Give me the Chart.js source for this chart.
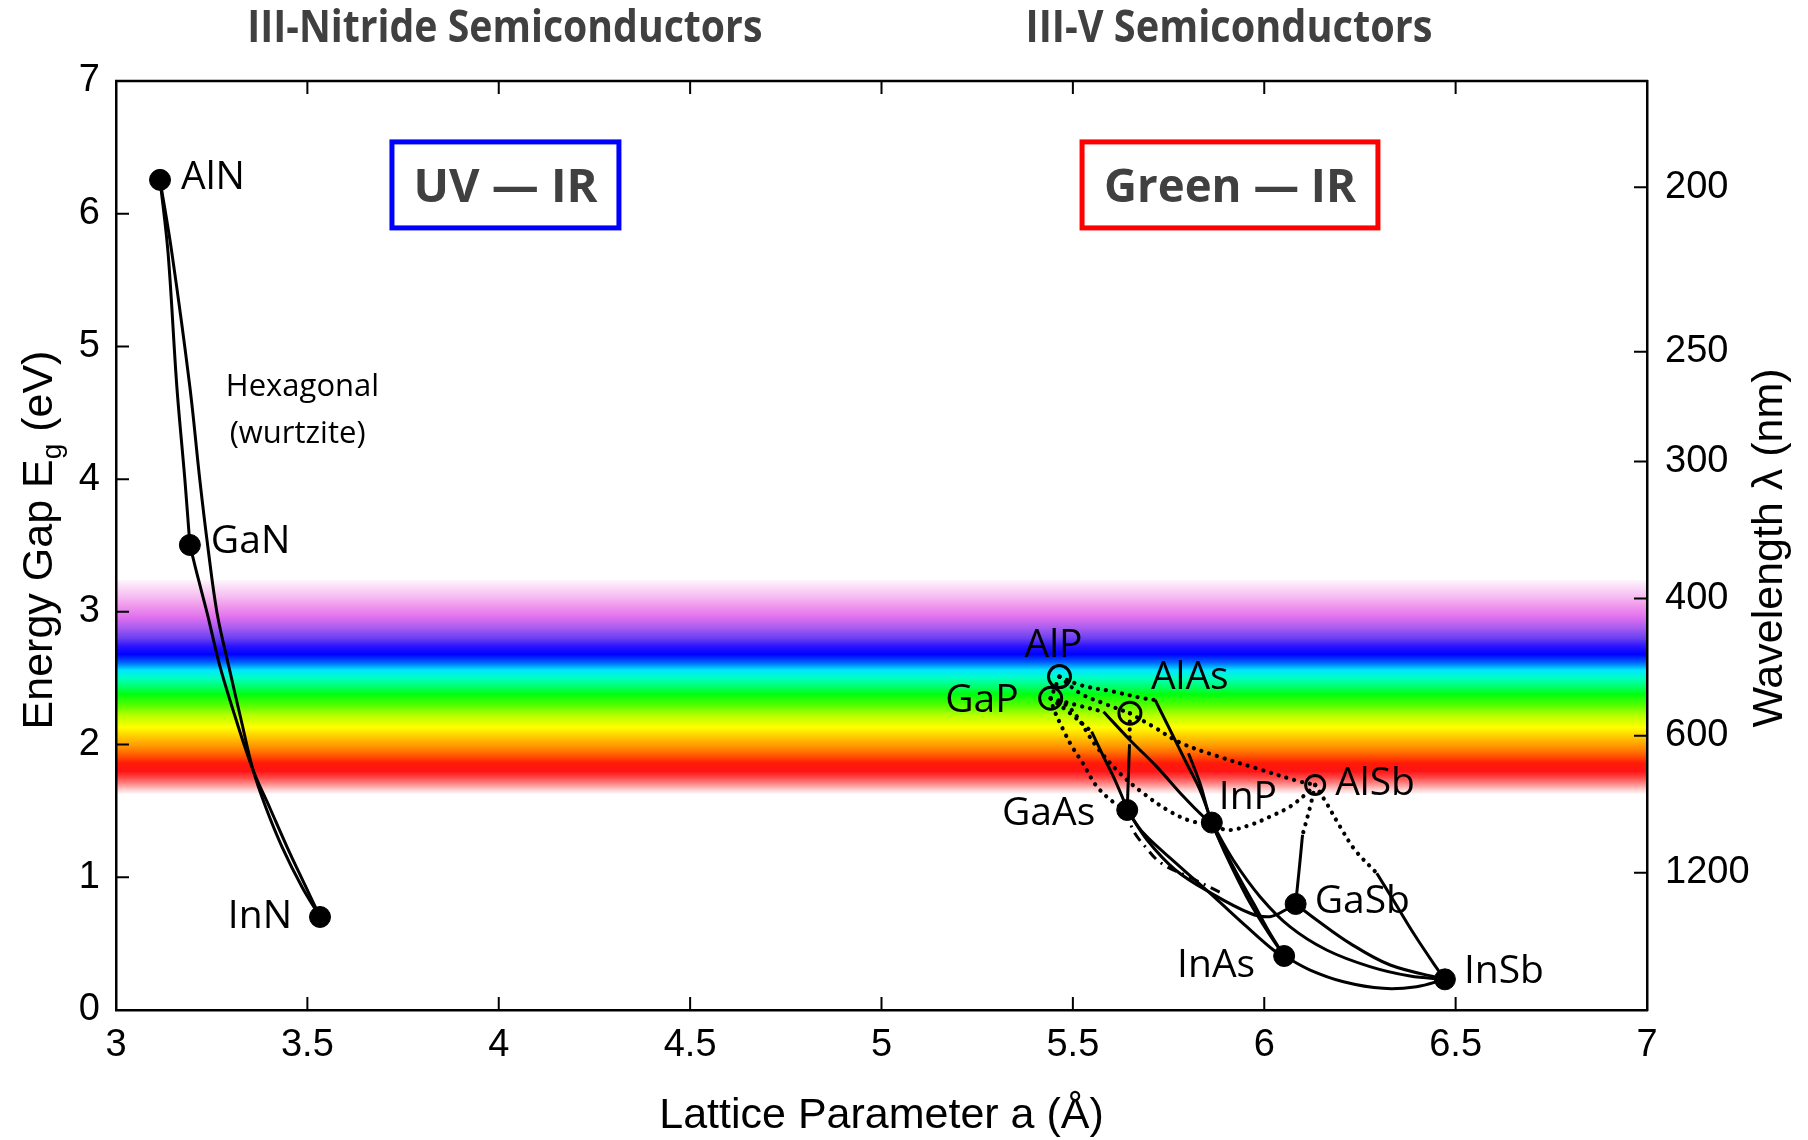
<!DOCTYPE html>
<html>
<head>
<meta charset="utf-8">
<title>Energy gap vs lattice parameter</title>
<script src="https://cdn.jsdelivr.net/npm/chart.js@4.4.1/dist/chart.umd.min.js"></script>
<style>
  html, body { margin: 0; padding: 0; background: #fff; }
  #wrap { width: 1808px; height: 1140px; }
</style>
</head>
<body>
<div id="wrap"><canvas id="chart" width="1808" height="1140"></canvas></div>
<script>
// ---- values ----
// binaries: lattice parameter a (Å) and gap Eg (eV)
const DIRECT_NAMES = ["AlN", "GaN", "InN", "GaAs", "InP", "GaSb", "InAs", "InSb"];
const DIRECT_A = [3.115, 3.193, 3.533, 5.642, 5.863, 6.082, 6.052, 6.472];
const DIRECT_EG = [6.255, 3.504, 0.701, 1.507, 1.412, 0.799, 0.407, 0.231];

const INDIRECT_NAMES = ["AlP", "GaP", "AlAs", "AlSb"];
const INDIRECT_A = [5.465, 5.442, 5.649, 6.133];
const INDIRECT_EG = [2.512, 2.349, 2.236, 1.696];

// right axis: wavelength ticks (nm), placed at E = 1240 / λ
const WAVELENGTH_NM = [200, 250, 300, 400, 600, 1200];
const HC = 1240;

// visible band, top (violet) to bottom (red)
const SPECTRUM_EV = [3.24, 3.20, 3.12, 3.04, 2.96, 2.88, 2.80, 2.74, 2.68, 2.62, 2.56, 2.50, 2.44,
  2.38, 2.30, 2.22, 2.13, 2.05, 1.98, 1.92, 1.86, 1.80, 1.75, 1.70, 1.66, 1.63];
const SPECTRUM_RGB = ["#fff6fd", "#fbe2f8", "#f6c0f1", "#ef95eb", "#e070ee", "#a85cf0", "#6a3ff2",
  "#2a14ff", "#0000ff", "#0060ff", "#00e8ff", "#00ffc0", "#00ff70", "#00ff10", "#50ff00", "#b8ff00",
  "#ffff00", "#ffc400", "#ff9000", "#ff5a00", "#ff1a0a", "#ff1414", "#ff4848", "#ff9090", "#ffd0d0", "#fff4f4"];

// alloy curves as [a, Eg] pairs
const ALGAN = [[3.115, 6.255], [3.136, 5.705], [3.159, 4.695], [3.180, 3.994], [3.193, 3.504]];
const ALINN = [[3.115, 6.255], [3.146, 5.705], [3.193, 4.695], [3.219, 3.994], [3.240, 3.489], [3.264, 2.992],
  [3.295, 2.585], [3.327, 2.185], [3.358, 1.809], [3.392, 1.522], [3.434, 1.228], [3.486, 0.927], [3.533, 0.701]];
const INGAN = [[3.193, 3.504], [3.209, 3.316], [3.238, 2.992], [3.272, 2.585], [3.314, 2.185], [3.358, 1.809],
  [3.402, 1.522], [3.447, 1.228], [3.496, 0.927], [3.533, 0.701]];

const ALGAP = [[5.465, 2.512], [5.442, 2.349]];
const ALASP = [[5.465, 2.512], [5.519, 2.386], [5.580, 2.311], [5.649, 2.236]];
const ALINP_X = [[5.465, 2.512], [5.519, 2.449], [5.606, 2.399], [5.684, 2.349], [5.715, 2.336]];
const ALINP_G = [[5.715, 2.336], [5.754, 2.110], [5.797, 1.859], [5.832, 1.658], [5.863, 1.412]];
const ALASSB = [[5.649, 2.236], [5.710, 2.135], [5.780, 2.015], [5.876, 1.914], [5.980, 1.821], [6.085, 1.728], [6.133, 1.696]];
const ALINAS = [[5.802, 1.934], [5.832, 1.708], [5.863, 1.412], [5.919, 1.080], [5.972, 0.804], [6.015, 0.578], [6.052, 0.407]];
const INASP = [[5.863, 1.412], [5.902, 1.155], [5.954, 0.854], [6.006, 0.603], [6.052, 0.407]];
const ALGAAS_X = [[5.649, 2.236], [5.648, 2.002]];
const ALGAAS_G = [[5.648, 2.002], [5.645, 1.758], [5.642, 1.507]];
const GAINP_X = [[5.442, 2.349], [5.510, 2.298], [5.580, 2.248]];
const GAINP_G = [[5.580, 2.248], [5.649, 2.035], [5.719, 1.834], [5.789, 1.608], [5.841, 1.457], [5.863, 1.412]];
const GAASP_X = [[5.442, 2.349], [5.493, 2.236], [5.549, 2.098]];
const GAASP_G = [[5.549, 2.098], [5.580, 1.909], [5.610, 1.733], [5.636, 1.557], [5.642, 1.507]];
const GAP_GAAS = [[5.442, 2.349], [5.451, 2.261], [5.475, 2.110], [5.498, 1.984], [5.526, 1.859], [5.563, 1.683], [5.610, 1.557], [5.642, 1.507]];
const GAP_INP = [[5.442, 2.349], [5.493, 2.273], [5.562, 1.984], [5.623, 1.783], [5.684, 1.633], [5.754, 1.495], [5.815, 1.419], [5.863, 1.412]];
const ALSB_INP = [[6.133, 1.696], [6.111, 1.633], [6.067, 1.532], [6.015, 1.457], [5.963, 1.394], [5.902, 1.356], [5.863, 1.412]];
const GAAS_TAIL = [[5.642, 1.507], [5.657, 1.356], [5.689, 1.231], [5.731, 1.105], [5.806, 1.000], [5.890, 0.879]];
const ALGASB_X = [[6.133, 1.696], [6.120, 1.532], [6.106, 1.382], [6.100, 1.319]];
const ALGASB_G = [[6.100, 1.319], [6.092, 1.080], [6.082, 0.799]];
const ALINSB_X = [[6.133, 1.696], [6.163, 1.557], [6.198, 1.382], [6.237, 1.206], [6.294, 1.030]];
const ALINSB_G = [[6.294, 1.030], [6.337, 0.829], [6.390, 0.578], [6.442, 0.352], [6.472, 0.231]];
const GAINSB = [[6.082, 0.799], [6.137, 0.678], [6.224, 0.502], [6.329, 0.339], [6.472, 0.231]];
const INASSB = [[6.052, 0.407], [6.120, 0.301], [6.207, 0.213], [6.311, 0.163], [6.398, 0.176], [6.472, 0.231]];
const INPSB = [[5.863, 1.412], [5.919, 1.130], [5.989, 0.854], [6.067, 0.628], [6.163, 0.452], [6.276, 0.327], [6.381, 0.256], [6.472, 0.231]];
const GAINAS = [[5.642, 1.507], [5.685, 1.331], [5.770, 1.105], [5.868, 0.854], [5.954, 0.628], [6.024, 0.452], [6.052, 0.407]];
const GAASSB = [[5.642, 1.507], [5.694, 1.281], [5.768, 1.055], [5.862, 0.879], [5.963, 0.729], [6.015, 0.703], [6.059, 0.759], [6.082, 0.799]];

// which curves and how they are stroked
const CURVES = [
  [ALGAN, "solid"], [ALINN, "solid"], [INGAN, "solid"],
  [ALGAP, "dot"], [ALASP, "dot"], [ALINP_X, "dot"], [ALINP_G, "solid"],
  [ALASSB, "dot"], [ALINAS, "solid"], [INASP, "solid"],
  [ALGAAS_X, "dot"], [ALGAAS_G, "solid"], [GAINP_X, "dot"], [GAINP_G, "solid"],
  [GAASP_X, "dot"], [GAASP_G, "solid"], [GAP_GAAS, "dot"], [GAP_INP, "dot"],
  [ALSB_INP, "dot"], [GAAS_TAIL, "dashdot"],
  [ALGASB_X, "dot"], [ALGASB_G, "solid"], [ALINSB_X, "dot"], [ALINSB_G, "solid"],
  [GAINSB, "solid"], [INASSB, "solid"], [INPSB, "solid"], [GAINAS, "solid"], [GAASSB, "solid"],
];

// ---- styles ----
const STROKE = {
  solid: { width: 3, dash: [], cap: "butt" },
  dot: { width: 4.2, dash: [0.1, 8], cap: "round" },
  dashdot: { width: 3, dash: [10, 6, 2, 6], cap: "butt" },
};
// label offsets from the point in px: [dx, dy, align]
const LABEL_OFFSET = {
  AlN: [21, -2, "left"], GaN: [21, -3, "left"], InN: [-28, 0, "right"],
  AlP: [-6, -31, "center"], GaP: [-32, 3, "right"], AlAs: [21, -35, "left"], AlSb: [20, -1, "left"],
  GaAs: [-32, 4, "right"], InP: [7, -25, "left"], GaSb: [19, -2, "left"], InAs: [-29, 10, "right"],
  InSb: [19, -7, "left"],
};
const TICK_FONT = { family: "'Liberation Sans', Arial, sans-serif", size: 38 };
const LABEL_FONT = "39px 'Open Sans', sans-serif";
const AXIS_FONT = "43px 'Liberation Sans', Arial, sans-serif";
const TICK_LEN = 13;

function pts(list) {
  return list.map(([x, y]) => ({ x, y }));
}

const plotDecor = {
  id: "plotDecor",
  beforeDraw(chart) {
    // visible spectrum band
    const { ctx, chartArea: ca, scales: { y } } = chart;
    const top = y.getPixelForValue(SPECTRUM_EV[0]);
    const bot = y.getPixelForValue(SPECTRUM_EV[SPECTRUM_EV.length - 1]);
    const g = ctx.createLinearGradient(0, top, 0, bot);
    SPECTRUM_EV.forEach((ev, i) => {
      g.addColorStop((y.getPixelForValue(ev) - top) / (bot - top), SPECTRUM_RGB[i]);
    });
    ctx.save();
    ctx.fillStyle = g;
    ctx.fillRect(ca.left, top, ca.right - ca.left, bot - top);
    ctx.restore();
  },
  afterDraw(chart) {
    const { ctx, chartArea: ca, scales: { x, y, y2 } } = chart;
    ctx.save();
    // frame top + inward ticks
    ctx.strokeStyle = "#000";
    ctx.lineWidth = 2.5;
    ctx.beginPath();
    ctx.moveTo(ca.left - 1, ca.top);
    ctx.lineTo(ca.right + 1, ca.top);
    ctx.stroke();
    ctx.lineWidth = 2;
    ctx.beginPath();
    x.ticks.forEach((t) => {
      const px = x.getPixelForValue(t.value);
      ctx.moveTo(px, ca.bottom);
      ctx.lineTo(px, ca.bottom - TICK_LEN);
      ctx.moveTo(px, ca.top);
      ctx.lineTo(px, ca.top + TICK_LEN);
    });
    y.ticks.forEach((t) => {
      const py = y.getPixelForValue(t.value);
      ctx.moveTo(ca.left, py);
      ctx.lineTo(ca.left + TICK_LEN, py);
    });
    y2.ticks.forEach((t) => {
      const py = y2.getPixelForValue(t.value);
      ctx.moveTo(ca.right, py);
      ctx.lineTo(ca.right - TICK_LEN, py);
    });
    ctx.stroke();

    // compound labels
    ctx.fillStyle = "#000";
    ctx.font = LABEL_FONT;
    ctx.textBaseline = "middle";
    const putLabel = (name, a, eg) => {
      const [dx, dy, align] = LABEL_OFFSET[name];
      ctx.textAlign = align;
      ctx.fillText(name, x.getPixelForValue(a) + dx, y.getPixelForValue(eg) + dy);
    };
    DIRECT_NAMES.forEach((n, i) => putLabel(n, DIRECT_A[i], DIRECT_EG[i]));
    INDIRECT_NAMES.forEach((n, i) => putLabel(n, INDIRECT_A[i], INDIRECT_EG[i]));

    ctx.font = "31px 'Open Sans', sans-serif";
    ctx.textAlign = "left";
    ctx.fillText("Hexagonal", x.getPixelForValue(3.287), y.getPixelForValue(4.69));
    ctx.fillText("(wurtzite)", x.getPixelForValue(3.297), y.getPixelForValue(4.34));

    // range boxes
    const box = (x0, x1, y0, y1, color, text, maxW) => {
      const l = x.getPixelForValue(x0), r = x.getPixelForValue(x1);
      const t = y.getPixelForValue(y0), b = y.getPixelForValue(y1);
      ctx.strokeStyle = color;
      ctx.lineWidth = 5;
      ctx.strokeRect(l, t, r - l, b - t);
      ctx.fillStyle = "#404040";
      ctx.font = "bold 47px 'Open Sans', sans-serif";
      ctx.textAlign = "center";
      ctx.fillText(text, (l + r) / 2, (t + b) / 2 + 4, maxW);
    };
    box(3.721, 4.314, 6.541, 5.893, "#0000ff", "UV — IR", 185);
    box(5.524, 6.297, 6.541, 5.893, "#ff0000", "Green — IR", 252);

    // group titles
    ctx.fillStyle = "#404040";
    ctx.font = "bold 45px 'Open Sans', sans-serif";
    ctx.fillText("III-Nitride Semiconductors", x.getPixelForValue(4.016), 29, 515);
    ctx.fillText("III-V Semiconductors", x.getPixelForValue(5.908), 29, 407);

    // axis titles
    ctx.fillStyle = "#000";
    ctx.font = AXIS_FONT;
    ctx.textAlign = "center";
    ctx.fillText("Lattice Parameter a (Å)", (ca.left + ca.right) / 2, 1116);

    const subFont = "28px 'Liberation Sans', Arial, sans-serif";
    const p1 = "Energy Gap E", p2 = "g", p3 = " (eV)";
    ctx.font = AXIS_FONT;
    const w1 = ctx.measureText(p1).width, w3 = ctx.measureText(p3).width;
    ctx.font = subFont;
    const w2 = ctx.measureText(p2).width;
    const total = w1 + w2 + w3;
    ctx.save();
    ctx.translate(37, 540);
    ctx.rotate(-Math.PI / 2);
    ctx.textAlign = "left";
    ctx.textBaseline = "alphabetic";
    ctx.font = AXIS_FONT;
    ctx.fillText(p1, -total / 2, 15);
    ctx.font = subFont;
    ctx.fillText(p2, -total / 2 + w1, 24);
    ctx.font = AXIS_FONT;
    ctx.fillText(p3, -total / 2 + w1 + w2, 15);
    ctx.restore();

    ctx.save();
    ctx.translate(1770, 548);
    ctx.rotate(-Math.PI / 2);
    ctx.textAlign = "center";
    ctx.textBaseline = "middle";
    ctx.font = AXIS_FONT;
    ctx.fillText("Wavelength λ (nm)", 0, 0);
    ctx.restore();

    ctx.restore();
  },
};

const datasets = [
  {
    label: "direct",
    data: DIRECT_A.map((a, i) => ({ x: a, y: DIRECT_EG[i] })),
    pointRadius: 10.5,
    backgroundColor: "#000",
    borderColor: "#000",
    borderWidth: 1,
  },
  {
    label: "indirect",
    data: INDIRECT_A.map((a, i) => ({ x: a, y: INDIRECT_EG[i] })),
    pointRadius: [11, 11, 11, 9.5],
    backgroundColor: "rgba(0,0,0,0)",
    borderColor: "#000",
    borderWidth: 3,
  },
  ...CURVES.map(([list, kind]) => ({
    data: pts(list),
    showLine: true,
    pointRadius: 0,
    borderColor: "#000",
    borderWidth: STROKE[kind].width,
    borderDash: STROKE[kind].dash,
    borderCapStyle: STROKE[kind].cap,
    tension: 0.35,
    fill: false,
  })),
];

new Chart(document.getElementById("chart"), {
  type: "scatter",
  data: { datasets },
  plugins: [plotDecor],
  options: {
    responsive: false,
    animation: false,
    devicePixelRatio: 1,
    events: [],
    layout: { padding: { top: 81, left: 0, right: 0, bottom: 0 } },
    plugins: { legend: { display: false }, tooltip: { enabled: false } },
    scales: {
      x: {
        type: "linear",
        min: 3,
        max: 7,
        afterFit: (s) => { s.height = 130; },
        grid: { display: false, drawTicks: false },
        border: { display: true, color: "#000", width: 2.5 },
        ticks: {
          stepSize: 0.5,
          color: "#000",
          font: TICK_FONT,
          padding: 13,
          maxRotation: 0,
          autoSkip: false,
          callback: (v) => String(v),
        },
      },
      y: {
        type: "linear",
        min: 0,
        max: 7,
        afterFit: (s) => { s.width = 116; },
        grid: { display: false, drawTicks: false },
        border: { display: true, color: "#000", width: 2.5 },
        ticks: { stepSize: 1, color: "#000", font: TICK_FONT, padding: 16, autoSkip: false },
      },
      y2: {
        type: "linear",
        position: "right",
        min: 0,
        max: 7,
        afterFit: (s) => { s.width = 161; },
        afterBuildTicks: (s) => { s.ticks = WAVELENGTH_NM.map((nm) => ({ value: HC / nm })); },
        grid: { display: false, drawTicks: false },
        border: { display: true, color: "#000", width: 2.5 },
        ticks: {
          color: "#000",
          font: TICK_FONT,
          padding: 18,
          autoSkip: false,
          callback: (v, i) => WAVELENGTH_NM[i],
        },
      },
    },
  },
});
</script>
</body>
</html>
